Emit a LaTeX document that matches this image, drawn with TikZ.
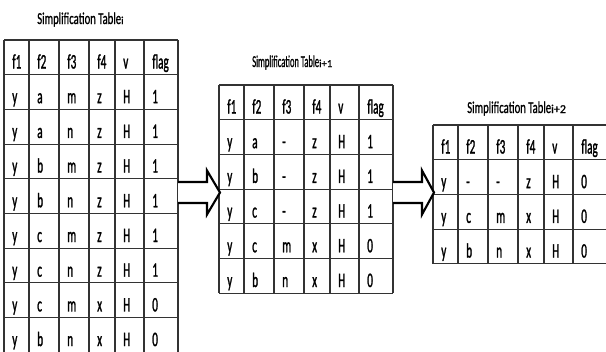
\documentclass[tikz,border=0pt]{standalone}
\usepackage{fontspec}
\setmainfont{Carlito}
\newfontfamily\cellfont{Carlito}[FakeStretch=0.54,FakeBold=1.2]
\newfontfamily\ttlfont{Carlito}[FakeBold=1]
\usetikzlibrary{calc}
\newcommand{\simpcols}{{0,25,55,85,111,140,174}}
% one table: name, left, top, number of rows, rows
\newcommand{\simptable}[5]{%
	\foreach \r in {0,...,#4}
		\draw[rule] (#2,#3+\r*34.7) -- (#2+174,#3+\r*34.7);
	\foreach \cx in {0,25,55,85,111,140,174}
		\draw[rule] (#2+\cx,#3) -- (#2+\cx,#3+#4*34.7);
	\foreach [count=\r] \row in {#5} {
		\foreach [count=\c] \t in \row {
			\pgfmathsetmacro{\cx}{#2+\simpcols[\c-1]+8}
			\node[cell] (#1-\r-\c) at (\cx,#3+\r*34.7-6.2) {\t};
		}
	}
}

\begin{document}
\begin{tikzpicture}[x=0.75pt,y=-0.75pt,
	cell/.style={anchor=base west,inner sep=0pt,font={\cellfont\fontsize{15.5}{15.5}\selectfont}},
	ttl/.style={anchor=base west,inner sep=0pt,font={\ttlfont\fontsize{12.5}{13}\selectfont}},
	rule/.style={draw=black!80,line width=0.85pt},
	blockarrow/.style={draw=black,line width=1.6pt,fill=white,line join=miter}]
	\path[use as bounding box,fill=white] (0,0) rectangle (606,351);
	% titles
	\node[ttl] (title1) at (37,24) {\scalebox{0.64}[1]{Simplification Table}{\fontsize{8}{8}\selectfont i}};
	\node[ttl] (title2) at (252,67) {\scalebox{0.51}[1]{Simplification Table}{\fontsize{8}{8}\selectfont i+1}};
	\node[ttl] (title3) at (467,113) {\scalebox{0.64}[1]{Simplification Table}{\fontsize{9}{9}\selectfont i+2}};
	% tables
	\simptable{t1}{4}{40}{9}{{f1,f2,f3,f4,v,flag},{y,a,m,z,H,1},{y,a,n,z,H,1},{y,b,m,z,H,1},{y,b,n,z,H,1},{y,c,m,z,H,1},{y,c,n,z,H,1},{y,c,m,x,H,0},{y,b,n,x,H,0}}
	\simptable{t2}{219}{85}{6}{{f1,f2,f3,f4,v,flag},{y,a,-,z,H,1},{y,b,-,z,H,1},{y,c,-,z,H,1},{y,c,m,x,H,0},{y,b,n,x,H,0}}
	\simptable{t3}{433}{125}{4}{{f1,f2,f3,f4,v,flag},{y,-,-,z,H,0},{y,c,m,x,H,0},{y,b,n,x,H,0}}
	% block arrows between the tables
	\coordinate (t1east) at (178,192.5);
	\coordinate (t2west) at (220,192.5);
	\coordinate (t2east) at (393,192.5);
	\coordinate (t3west) at (434,192.5);
	\draw[blockarrow] ($(t1east)+(0,-10.5)$) -- ($(t2west)+(-13,-10.5)$) -- ($(t2west)+(-13,-22)$) -- (t2west)
		-- ($(t2west)+(-13,22)$) -- ($(t2west)+(-13,10.5)$) -- ($(t1east)+(0,10.5)$);
	\draw[blockarrow] ($(t2east)+(0,-10.5)$) -- ($(t3west)+(-12,-10.5)$) -- ($(t3west)+(-12,-22)$) -- (t3west)
		-- ($(t3west)+(-12,22)$) -- ($(t3west)+(-12,10.5)$) -- ($(t2east)+(0,10.5)$);
\end{tikzpicture}
\end{document}
